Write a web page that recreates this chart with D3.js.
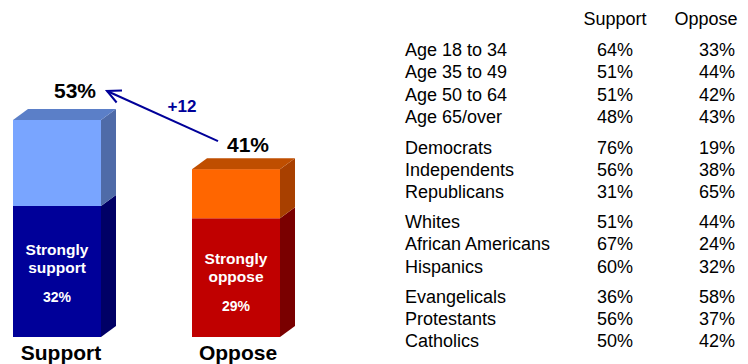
<!DOCTYPE html>
<html><head><meta charset="utf-8">
<script src="https://cdn.jsdelivr.net/npm/d3@7"></script>
<style>body{margin:0;background:#fff}svg{display:block}text{font-family:"Liberation Sans",Arial,sans-serif}</style>
</head><body><svg id="c" width="748" height="364"></svg>
<script>
// Data
const barCategories = ["Support", "Oppose"];
const totalValues = [53, 41];
const strongValues = [32, 29];
const strongLabels = [["Strongly", "support"], ["Strongly", "oppose"]];
const diffLabel = "+12";

const tableHeaders = ["Support", "Oppose"];
const tableGroups = [
  ["Age 18 to 34", "Age 35 to 49", "Age 50 to 64", "Age 65/over"],
  ["Democrats", "Independents", "Republicans"],
  ["Whites", "African Americans", "Hispanics"],
  ["Evangelicals", "Protestants", "Catholics"]
];
const supportPct = [[64, 51, 51, 48], [76, 56, 31], [51, 67, 60], [36, 56, 50]];
const opposePct = [[33, 44, 42, 43], [19, 38, 65], [44, 24, 32], [58, 37, 42]];

const svg = d3.select("#c");
const y = d3.scaleLinear().domain([0, 53]).range([337, 120]);
const x = d3.scaleOrdinal().domain(barCategories).range([13, 192]);
const bw = 88, dx = 15, dy = -11;
const colors = {
  Support: {top: {front: "#79A5FF", side: "#4F6BA8", cap: "#5B7FC8"}, bot: {front: "#000099", side: "#000066"}},
  Oppose: {top: {front: "#FF6600", side: "#A84000", cap: "#BF4E00"}, bot: {front: "#C00000", side: "#7A0000"}}
};

function box(g, x0, y0, y1, c, cap) {
  g.append("rect").attr("x", x0).attr("y", y0).attr("width", bw).attr("height", y1 - y0).attr("fill", c.front);
  g.append("path").attr("d", `M${x0 + bw},${y0}L${x0 + bw + dx},${y0 + dy}L${x0 + bw + dx},${y1 + dy}L${x0 + bw},${y1}Z`).attr("fill", c.side);
  if (cap) g.append("path").attr("d", `M${x0},${y0}L${x0 + dx},${y0 + dy}L${x0 + bw + dx},${y0 + dy}L${x0 + bw},${y0}Z`).attr("fill", c.cap);
}

barCategories.forEach((cat, i) => {
  const g = svg.append("g");
  const x0 = x(cat);
  box(g, x0, y(strongValues[i]), y(0), colors[cat].bot, false);
  box(g, x0, y(totalValues[i]), y(strongValues[i]), colors[cat].top, true);
  const cx = x0 + bw / 2;
  const base = y(strongValues[i]) + (i === 0 ? 49 : 46);
  strongLabels[i].forEach((t, k) => {
    g.append("text").attr("x", cx).attr("y", base + k * 18).attr("text-anchor", "middle")
      .attr("fill", "#fff").attr("font-weight", "bold").attr("font-size", 15.5).text(t);
  });
  g.append("text").attr("x", cx).attr("y", base + 47).attr("text-anchor", "middle")
    .attr("fill", "#fff").attr("font-weight", "bold").attr("font-size", 14).text(strongValues[i] + "%");
  const tx = i === 0 ? 75 : 248;
  g.append("text").attr("x", tx).attr("y", y(totalValues[i]) - (i === 0 ? 22 : 17)).attr("text-anchor", "middle")
    .attr("fill", "#000").attr("font-weight", "bold").attr("font-size", 21).text(totalValues[i] + "%");
  g.append("text").attr("x", i === 0 ? 61 : 238).attr("y", 360).attr("text-anchor", "middle")
    .attr("fill", "#000").attr("font-weight", "bold").attr("font-size", 21).text(cat);
});

// arrow
const ax1 = 218, ay1 = y(totalValues[1]) - 28, ax2 = 107, ay2 = y(totalValues[0]) - 29;
svg.append("line").attr("x1", ax1).attr("y1", ay1).attr("x2", ax2).attr("y2", ay2)
  .attr("stroke", "#000099").attr("stroke-width", 2);
const ang = Math.atan2(ay1 - ay2, ax1 - ax2);
const hl = 15, ha = 0.45;
svg.append("path")
  .attr("d", `M${ax2 + hl * Math.cos(ang - ha)},${ay2 + hl * Math.sin(ang - ha)}L${ax2},${ay2}L${ax2 + hl * Math.cos(ang + ha)},${ay2 + hl * Math.sin(ang + ha)}`)
  .attr("fill", "none").attr("stroke", "#000099").attr("stroke-width", 2);
svg.append("text").attr("x", 182).attr("y", 112).attr("text-anchor", "middle")
  .attr("fill", "#000099").attr("font-weight", "bold").attr("font-size", 17).text(diffLabel);

// table
const tg = svg.append("g").attr("font-size", 18).attr("fill", "#000");
tg.append("text").attr("x", 615).attr("y", 25).attr("text-anchor", "middle").text(tableHeaders[0]);
tg.append("text").attr("x", 706).attr("y", 25).attr("text-anchor", "middle").text(tableHeaders[1]);
const groupStart = [56, 154, 228, 303];
const rowStep = [22.3, 22, 22.3, 22];
tableGroups.forEach((grp, gi) => {
  grp.forEach((lab, ri) => {
    const yy = groupStart[gi] + ri * rowStep[gi];
    tg.append("text").attr("x", 405).attr("y", yy).text(lab);
    tg.append("text").attr("x", 633).attr("y", yy).attr("text-anchor", "end").text(supportPct[gi][ri] + "%");
    tg.append("text").attr("x", 735).attr("y", yy).attr("text-anchor", "end").text(opposePct[gi][ri] + "%");
  });
});
</script></body></html>
